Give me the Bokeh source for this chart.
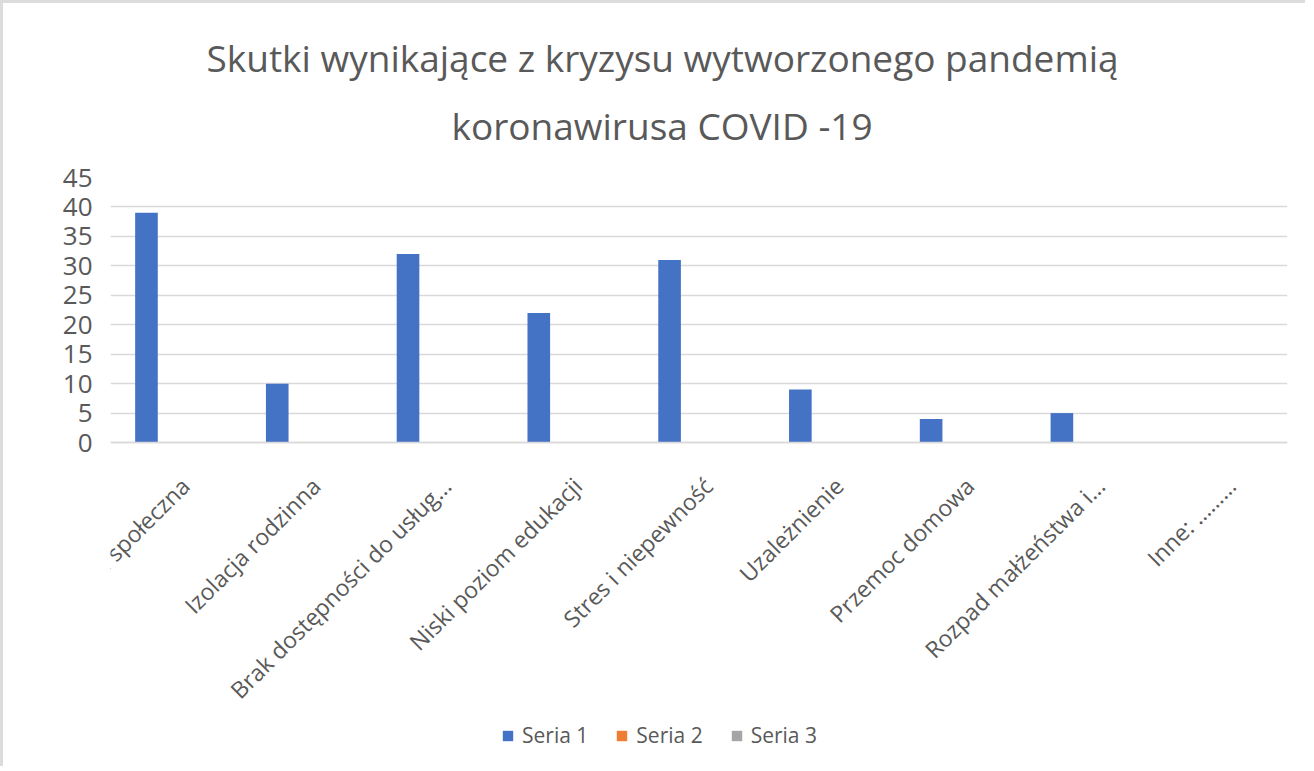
from math import pi
from bokeh.plotting import figure
from bokeh.models import (Range1d, LinearAxis, FixedTicker, Title,
                          CustomJSTickFormatter, Legend, LegendItem, Grid, ColumnDataSource)
from bokeh.transform import dodge
from bokeh.embed import file_html
from bokeh.resources import INLINE

# ---------------- data ----------------
categories = [
    "Izolacja społeczna",
    "Izolacja rodzinna",
    "Brak dostępności do usług...",
    "Niski poziom edukacji",
    "Stres i niepewność",
    "Uzależnienie",
    "Przemoc domowa",
    "Rozpad małżeństwa i...",
    "Inne: ………",
]
seria_1 = [39, 10, 32, 22, 31, 9, 4, 5, 0]
seria_2 = [0, 0, 0, 0, 0, 0, 0, 0, 0]
seria_3 = [0, 0, 0, 0, 0, 0, 0, 0, 0]
series_names = ["Seria 1", "Seria 2", "Seria 3"]
title_lines = ["Skutki wynikające z kryzysu wytworzonego pandemią", "koronawirusa COVID -19"]
y_max = 45
y_step = 5

# ---------------- layout / style ----------------
FONT = "Open Sans"
TXT = "#595959"
GRID = "#D9D9D9"
colors = ["#4472C4", "#ED7D31", "#A5A5A5"]
label_offset = 0.07   # category-label anchor offset (in slot units)
y_bottom = -55        # room below zero for the category labels and legend

n = len(categories)
slot_center = [i + 0.5 for i in range(n)]  # category slot centres on a numeric scale
y_ticks = list(range(0, y_max + 1, y_step))

p = figure(frame_width=1177, frame_height=589, output_backend="svg", toolbar_location=None,
           x_range=Range1d(0, n), y_range=Range1d(y_bottom, y_max),
           x_axis_location=None, y_axis_location=None,
           min_border_left=107, min_border_right=18, min_border_top=174, min_border_bottom=0)
p.center = [r for r in p.center if not isinstance(r, Grid)]
p.outline_line_color = None
p.background_fill_color = "white"
p.border_fill_color = "white"
p.styles = {"border-top": "3px solid #DCDCDC", "border-left": "3px solid #DCDCDC"}

# y axis + grid
yticker = FixedTicker(ticks=y_ticks)
yaxis = LinearAxis(ticker=yticker, axis_line_color=None, major_tick_line_color=None,
                   minor_tick_line_color=None, major_label_standoff=12,
                   major_label_text_font=FONT, major_label_text_font_size="26px",
                   major_label_text_color=TXT)
p.add_layout(yaxis, "left")
p.add_layout(Grid(dimension=1, ticker=yticker, grid_line_color=GRID, grid_line_width=1.5))

# bars
cds = ColumnDataSource(dict(cat=categories, xc=slot_center, s1=seria_1, s2=seria_2, s3=seria_3))
offsets = [-0.225, 0.0, 0.225]
renderers = []
for key, off, col in zip(["s1", "s2", "s3"], offsets, colors):
    r = p.vbar(x=dodge("xc", off), top=key, width=0.173, source=cds,
               fill_color=col, line_color=None)
    renderers.append(r)

# x axis (category labels), pinned at y = 0
xticks = [round(c + label_offset, 3) for c in slot_center]
xaxis = LinearAxis(ticker=FixedTicker(ticks=xticks), fixed_location=0,
                   formatter=CustomJSTickFormatter(args=dict(names=categories), code="return names[index];"),
                   major_label_orientation=pi / 4, axis_line_color=GRID, axis_line_width=1.5,
                   major_tick_line_color=None, minor_tick_line_color=None,
                   major_label_standoff=33, major_label_text_font=FONT,
                   major_label_text_font_size="23px", major_label_text_color=TXT)
p.add_layout(xaxis, "below")

# legend at the bottom of the plot area
legend = Legend(items=[LegendItem(label=nm, renderers=[r]) for nm, r in zip(series_names, renderers)],
                orientation="horizontal", location=(391, 17),
                glyph_width=13, glyph_height=13, label_standoff=8, spacing=27,
                padding=0, margin=0, border_line_color=None, background_fill_alpha=0,
                label_text_font=FONT, label_text_font_size="21px", label_text_color=TXT)
p.add_layout(legend, "center")

# title (two lines; first added sits nearest the plot)
p.add_layout(Title(text=title_lines[1], align="left", offset=341, standoff=54,
                   text_font=FONT, text_font_size="37px", text_font_style="normal",
                   text_color=TXT), "above")
p.add_layout(Title(text=title_lines[0], align="left", offset=96, standoff=-24,
                   text_font=FONT, text_font_size="37px", text_font_style="normal",
                   text_color=TXT), "above")

open("out.html", "w").write(file_html(p, INLINE))
